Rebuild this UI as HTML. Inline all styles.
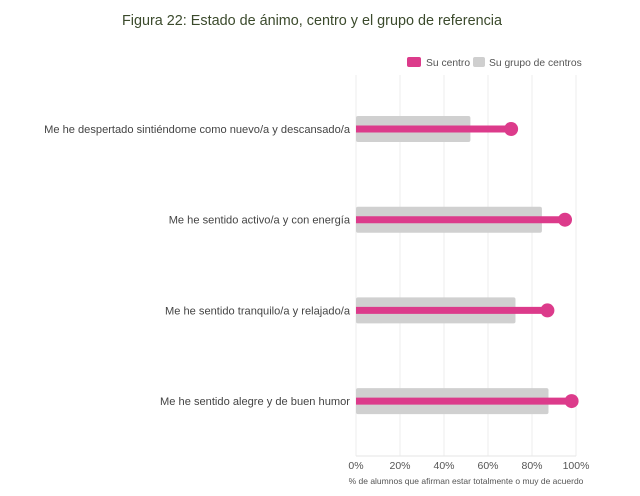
<!DOCTYPE html>
<html><head><meta charset="utf-8">
<style>
html,body{margin:0;padding:0;background:#fff;}
svg{display:block;font-family:"Liberation Sans",sans-serif;}
</style></head>
<body>
<svg id="chart" width="640" height="496" viewBox="0 0 640 496">
<text x="312" y="25" text-anchor="middle" font-size="14.4" fill="#3b4a2c">Figura 22: Estado de ánimo, centro y el grupo de referencia</text>
<g>
<rect x="407" y="57" width="14" height="10" rx="2" fill="#dc3b8b"/>
<text x="426" y="66" font-size="10.3" fill="#555">Su centro</text>
<rect x="473" y="57" width="12" height="10" rx="2" fill="#cfcfcf"/>
<text x="489" y="66" font-size="10.3" fill="#555">Su grupo de centros</text>
</g>
<g id="grid"></g>
<g id="marks"></g>
<g id="labels"></g>
<g id="ticks"></g>
<text x="466" y="484" text-anchor="middle" font-size="8.5" fill="#555">% de alumnos que afirman estar totalmente o muy de acuerdo</text>
</svg>
<script>
const categories = ["Me he despertado sintiéndome como nuevo/a y descansado/a","Me he sentido activo/a y con energía","Me he sentido tranquilo/a y relajado/a","Me he sentido alegre y de buen humor"];
const grupoValues = [52, 84.5, 72.5, 87.5];
const centroValues = [70.5, 95, 87, 98];
const tickValues = [0, 20, 40, 60, 80, 100];
const tickLabels = ["0%","20%","40%","60%","80%","100%"];

const NS = "http://www.w3.org/2000/svg";
const X0 = 356, X1 = 576, TOP = 75, BOT = 456;
const xScale = v => X0 + (X1 - X0) * v / 100;
const yScale = i => 129 + i * 90.7;
function mk(tag, attrs, parent) {
  const e = document.createElementNS(NS, tag);
  for (const k in attrs) e.setAttribute(k, attrs[k]);
  parent.appendChild(e);
  return e;
}
const grid = document.getElementById('grid');
const marks = document.getElementById('marks');
const labels = document.getElementById('labels');
const ticks = document.getElementById('ticks');
tickValues.forEach((t, i) => {
  const l = mk('line', {x1: xScale(t), x2: xScale(t), y1: TOP, y2: BOT, stroke: '#ececec', 'stroke-width': 1}, grid);
  
  
  const tx = mk('text', {x: xScale(t), y: 469, 'text-anchor': 'middle', 'font-size': 10.5, fill: '#555'}, ticks);
  tx.textContent = tickLabels[i];
  
  
});
const base = mk('line', {x1: X0, x2: X1, y1: BOT, y2: BOT, stroke: '#e6e6e6', 'stroke-width': 1}, grid);


categories.forEach((c, i) => {
  const y = yScale(i);
  const g = mk('rect', {x: X0, y: y - 13, width: xScale(grupoValues[i]) - X0, height: 26, rx: 2, fill: '#d0d0d0'}, marks);
  
  
  const ln = mk('line', {x1: X0, x2: xScale(centroValues[i]), y1: y, y2: y, stroke: '#dc3b8b', 'stroke-width': 7}, marks);
  
  
  const d = mk('circle', {cx: xScale(centroValues[i]), cy: y, r: 7, fill: '#dc3b8b'}, marks);
  
  
  const t = mk('text', {x: 350, y: y + 4, 'text-anchor': 'end', 'font-size': 11.1, fill: '#444'}, labels);
  t.textContent = c;
  
  
});
</script>
</body></html>
